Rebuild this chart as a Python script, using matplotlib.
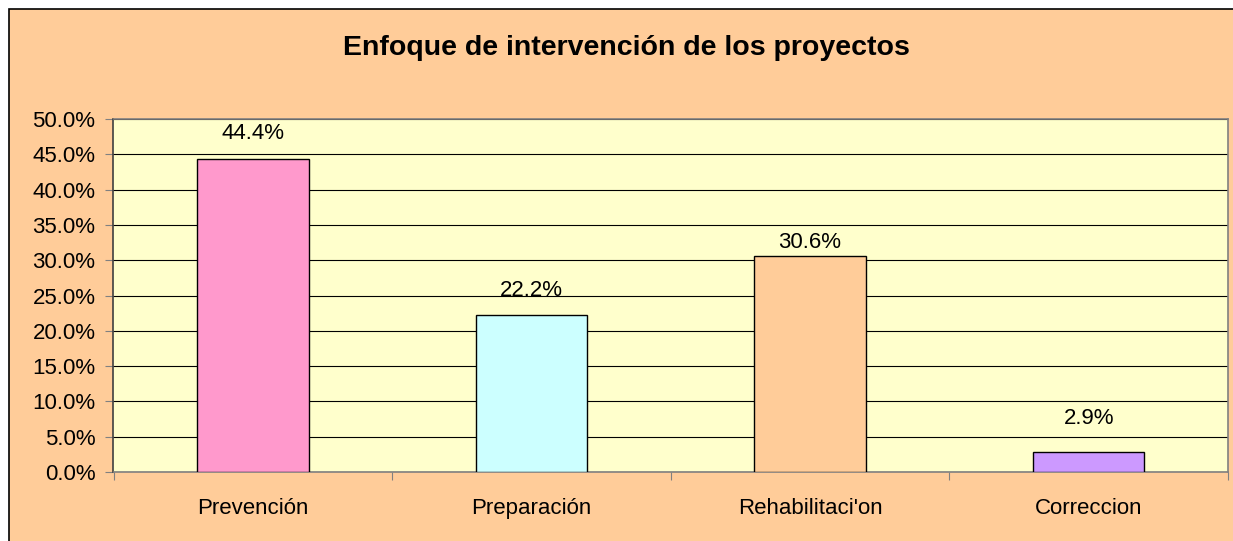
import matplotlib
matplotlib.use("Agg")
import matplotlib.pyplot as plt
from matplotlib.patches import Rectangle
from matplotlib.ticker import FuncFormatter, FixedLocator, NullFormatter
import numpy as np

categories = ["Prevención", "Preparación", "Rehabilitaci'on", "Correccion"]
values = [0.444, 0.222, 0.306, 0.029]
labels = ["44.4%", "22.2%", "30.6%", "2.9%"]
colors = ["#FF99CC", "#CCFFFF", "#FFCC99", "#CC99FF"]
label_offsets = [18, 18, 10, 24]  # points above bar top

plt.rcParams['font.family'] = ['Liberation Sans', 'DejaVu Sans']

fig = plt.figure(figsize=(12.33, 5.41), dpi=100)
fig.patch.set_facecolor("white")
fig.patches.append(Rectangle((9 / 1233, -0.01), 1.02, 1 - 9 / 541 + 0.01,
                             transform=fig.transFigure, facecolor="#FFCC99",
                             edgecolor="black", linewidth=1.2, zorder=-5))

ax = fig.add_axes([113.5 / 1233, 1 - 472 / 541, (1228 - 113.5) / 1233, (472 - 119) / 541])
ax.set_facecolor("#FFFFCC")

x = np.arange(len(categories))
bars = ax.bar(x, values, width=0.4, color=colors, edgecolor="black", linewidth=1, zorder=3)

for xi, v, lab, off in zip(x, values, labels, label_offsets):
    ax.annotate(lab, (xi, v), xytext=(0, off), textcoords="offset points",
                ha="center", va="center", fontsize=16)

ax.set_xlim(-0.5, len(categories) - 0.5)
ax.set_ylim(0, 0.5)
ax.set_yticks(np.arange(0, 0.501, 0.05))
ax.yaxis.set_major_formatter(FuncFormatter(lambda v, p: f"{v * 100:.1f}%"))
ax.grid(axis="y", color="black", linewidth=0.8, zorder=1)
ax.set_axisbelow(True)

ax.xaxis.set_major_locator(FixedLocator(np.arange(-0.5, len(categories), 1.0)))
ax.xaxis.set_major_formatter(NullFormatter())
ax.xaxis.set_minor_locator(FixedLocator(x))
ax.set_xticklabels(categories, minor=True)
ax.tick_params(axis="x", which="minor", length=0, pad=19, labelsize=16)
ax.tick_params(axis="x", which="major", length=6, color="#808080")
ax.tick_params(axis="y", length=6, color="#808080", labelsize=16, pad=7)

for side in ["top", "right", "bottom"]:
    ax.spines[side].set_color("#808080")
    ax.spines[side].set_linewidth(1.2)
ax.spines["left"].set_color("#404040")
ax.spines["left"].set_linewidth(1.2)

fig.text(626.5 / 1233, 1 - 48 / 541, "Enfoque de intervención de los proyectos",
         ha="center", va="center", fontsize=20.5, fontweight="bold")

fig.savefig("out.png", dpi=100)
